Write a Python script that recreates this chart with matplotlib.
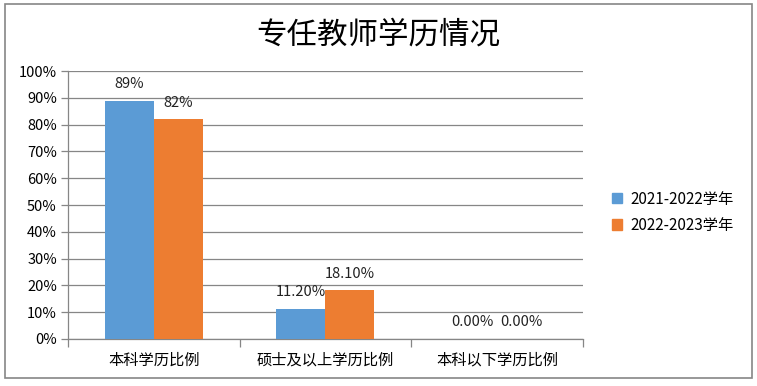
import matplotlib
matplotlib.use('Agg')
import matplotlib.pyplot as plt
import matplotlib.patches as mpatches
import numpy as np

plt.rcParams['font.family'] = ['Noto Sans CJK SC', 'DejaVu Sans']

# 数据
categories = ['本科学历比例', '硕士及以上学历比例', '本科以下学历比例']
series_names = ['2021-2022学年', '2022-2023学年']
values_2021 = [0.89, 0.112, 0.0]
values_2022 = [0.82, 0.181, 0.0]
labels_2021 = ['89%', '11.20%', '0.00%']
labels_2022 = ['82%', '18.10%', '0.00%']
colors = ['#5B9BD5', '#ED7D31']


def main():
    fig = plt.figure(figsize=(7.57, 3.86), dpi=100)
    ax = fig.add_axes([0.0898, 0.1218, 0.680, 0.694])

    x = np.arange(len(categories))
    w = 0.285
    b1 = ax.bar(x - w / 2, values_2021, w, color=colors[0], label=series_names[0], zorder=3)
    b2 = ax.bar(x + w / 2, values_2022, w, color=colors[1], label=series_names[1], zorder=3)

    for bars, labs in ((b1, labels_2021), (b2, labels_2022)):
        for rect, lab in zip(bars, labs):
            ax.annotate(lab, (rect.get_x() + rect.get_width() / 2, rect.get_height()),
                        xytext=(0, 7), textcoords='offset points',
                        ha='center', va='bottom', fontsize=10.5, color='#222222')

    ax.set_xlim(-0.5, 2.5)
    ax.set_ylim(0, 1.0)
    ax.set_yticks(np.arange(0, 1.01, 0.1))
    ax.set_yticklabels([f'{int(round(v * 100))}%' for v in np.arange(0, 1.01, 0.1)], fontsize=10.5)
    ax.yaxis.grid(True, color='#868686', linewidth=0.9, zorder=0)
    ax.set_axisbelow(True)

    # 分类刻度在分隔处
    ax.set_xticks(x)
    ax.set_xticklabels(categories, fontsize=11)
    ax.tick_params(axis='x', length=0, pad=9)
    ax.set_xticks([-0.5, 0.5, 1.5, 2.5], minor=True)
    ax.tick_params(axis='x', which='minor', length=6, color='#868686', width=0.9)
    ax.tick_params(axis='y', length=5, color='#868686', width=0.9, pad=3)

    for s in ['top', 'right']:
        ax.spines[s].set_visible(False)
    for s in ['left', 'bottom']:
        ax.spines[s].set_color('#868686')
        ax.spines[s].set_linewidth(0.9)

    fig.text(0.5, 0.91, '专任教师学历情况', ha='center', va='center', fontsize=22)

    fig.legend(handles=[mpatches.Patch(color=colors[0], label=series_names[0]),
                        mpatches.Patch(color=colors[1], label=series_names[1])],
               loc='center left', bbox_to_anchor=(0.79, 0.45), frameon=False,
               fontsize=11, handlelength=0.65, handleheight=0.65, handletextpad=0.6,
               labelspacing=0.6)

    border = mpatches.Rectangle((5 / 757, 8 / 386), 747 / 757, 374 / 386,
                                transform=fig.transFigure, fill=False,
                                edgecolor='#868686', linewidth=1.2)
    fig.patches.append(border)

    plt.savefig('out.png', dpi=100)


if __name__ == '__main__':
    main()
